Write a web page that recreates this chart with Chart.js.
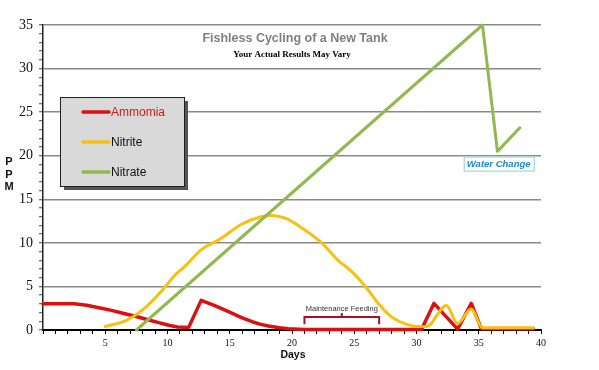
<!DOCTYPE html>
<html>
<head>
<meta charset="utf-8">
<script src="https://cdn.jsdelivr.net/npm/chart.js@4"></script>
<style>
  html, body { margin: 0; padding: 0; background: #fff; }
  #wrap { width: 599px; height: 370px; }
</style>
</head>
<body>
<div id="wrap"><canvas id="cycleChart" width="599" height="370"></canvas></div>
<script>
// values (days, ppm)
const ammoniaDays = [0, 2.5, 3.5, 4.5, 5.5, 6.5, 7.5, 8.5, 9.3, 10.1, 10.8, 11.7, 12.7, 13.8, 14.9, 15.9, 16.8, 17.5, 18.1, 19, 19.7, 21, 30.4, 31.4, 33.3, 34.4, 35.2, 39.4];
const ammoniaPpm  = [3, 3, 2.85, 2.55, 2.25, 1.9, 1.55, 1.15, 0.85, 0.55, 0.35, 0.3, 3.4, 2.8, 2.1, 1.45, 0.95, 0.65, 0.45, 0.25, 0.15, 0.05, 0.05, 3.05, 0.1, 3.05, 0.15, 0.15];

const nitriteDays = [5, 6.7, 8, 9.6, 10.6, 11.4, 12.7, 14.3, 15.9, 17.5, 18.4, 19.5, 20.5, 22.3, 23.7, 24.8, 25.9, 26.9, 28, 29.1, 30.1, 30.8, 32.4, 33.3, 34.4, 35.3, 39.4];
const nitritePpm  = [0.4, 1.1, 2.3, 4.6, 6.3, 7.3, 9.2, 10.5, 12.1, 13.0, 13.15, 12.8, 12.0, 10.1, 8.0, 6.7, 5.0, 3.1, 1.5, 0.7, 0.4, 0.4, 2.8, 0.75, 2.4, 0.25, 0.25];

const nitrateDays = [7.5, 35.3, 36.5, 38.3];
const nitratePpm  = [0, 35, 20.5, 23.2];

const seriesNames = ['Ammomia', 'Nitrite', 'Nitrate'];
const seriesColors = ['#dc1010', '#f8c010', '#92b850'];

const xTicks = [5, 10, 15, 20, 25, 30, 35, 40];
const yTicks = [0, 5, 10, 15, 20, 25, 30, 35];

const chartTitle = 'Fishless Cycling of a New Tank';
const chartSubtitle = 'Your Actual Results May Vary';

function toPoints(days, ppm) {
    return days.map((d, i) => ({ x: d, y: ppm[i] }));
}

const overlay = {
    id: 'overlay',
    afterDraw(chart) {
        const c = chart.ctx;
        const xs = chart.scales.x;
        const ys = chart.scales.y;
        c.save();
        c.textAlign = 'center';
        c.textBaseline = 'middle';

        // title + subtitle
        c.fillStyle = '#7f7f7f';
        c.font = 'bold 12.5px "Liberation Sans", Arial, sans-serif';
        c.fillText(chartTitle, 295, 39);
        c.fillStyle = '#000';
        c.font = 'bold 9px "Liberation Serif", "Times New Roman", serif';
        c.fillText(chartSubtitle, 292, 55);

        // axis titles
        c.font = 'bold 11px "Liberation Sans", Arial, sans-serif';
        c.fillStyle = '#111';
        ['P', 'P', 'M'].forEach((ch, i) => c.fillText(ch, 9, 162 + i * 12.5));
        c.font = 'bold 10.5px "Liberation Sans", Arial, sans-serif';
        c.fillText('Days', 293, 355);

        // legend box
        c.fillStyle = '#555';
        c.fillRect(64, 101, 124, 89);
        c.fillStyle = '#d9d9d9';
        c.fillRect(60, 97, 124, 89);
        c.strokeStyle = '#222';
        c.lineWidth = 1;
        c.strokeRect(60.5, 97.5, 124, 89);
        c.textAlign = 'left';
        c.font = '12px "Liberation Sans", Arial, sans-serif';
        chart.data.datasets.forEach((ds, i) => {
            const y = 112 + i * 30;
            c.strokeStyle = ds.borderColor;
            c.lineWidth = 3.5;
            c.lineCap = 'round';
            c.beginPath();
            c.moveTo(83, y);
            c.lineTo(109, y);
            c.stroke();
            c.fillStyle = i === 0 ? '#d81818' : '#111';
            c.fillText(ds.label, 111, y + 1);
        });

        // maintenance feeding bracket
        const bx1 = xs.getPixelForValue(21), bx2 = xs.getPixelForValue(27), bxm = xs.getPixelForValue(24);
        const top = ys.getPixelForValue(1.5), leg = ys.getPixelForValue(0.65), tip = ys.getPixelForValue(1.95);
        c.strokeStyle = '#a8121e';
        c.lineWidth = 2;
        c.lineCap = 'butt';
        c.beginPath();
        c.moveTo(bx1, leg); c.lineTo(bx1, top); c.lineTo(bx2, top); c.lineTo(bx2, leg);
        c.moveTo(bxm, top); c.lineTo(bxm, tip);
        c.stroke();
        c.textAlign = 'center';
        c.fillStyle = '#333';
        c.font = '7.5px "Liberation Sans", Arial, sans-serif';
        c.fillText('Maintenance Feeding', bxm, ys.getPixelForValue(2.45));

        // water change label
        const wx = xs.getPixelForValue(36.6), wy = ys.getPixelForValue(19.1);
        c.fillStyle = '#fff';
        c.fillRect(wx - 35, wy - 7, 70, 14);
        c.strokeStyle = '#8fcbe0';
        c.lineWidth = 1;
        c.strokeRect(wx - 35 + 0.5, wy - 7 + 0.5, 70, 14);
        c.fillStyle = '#1b88c4';
        c.font = 'italic bold 9.5px "Liberation Sans", Arial, sans-serif';
        c.fillText('Water Change', wx, wy + 1);
        c.restore();
    }
};

const ctx = document.getElementById('cycleChart').getContext('2d');
new Chart(ctx, {
    type: 'line',
    data: {
        datasets: [
            { label: seriesNames[0], data: toPoints(ammoniaDays, ammoniaPpm), borderColor: seriesColors[0], borderWidth: 3.5, tension: 0, order: 2 },
            { label: seriesNames[1], data: toPoints(nitriteDays, nitritePpm), borderColor: seriesColors[1], borderWidth: 3, cubicInterpolationMode: 'monotone', order: 1 },
            { label: seriesNames[2], data: toPoints(nitrateDays, nitratePpm), borderColor: seriesColors[2], borderWidth: 3, tension: 0, order: 0 }
        ]
    },
    options: {
        responsive: false,
        animation: false,
        layout: { padding: { top: 25, right: 58, left: 0, bottom: 0 } },
        elements: { point: { radius: 0 }, line: { borderCapStyle: 'round', borderJoinStyle: 'round' } },
        datasets: { line: { clip: 5 } },
        scales: {
            x: {
                type: 'linear',
                min: 0,
                max: 40,
                afterFit: scale => { scale.height = 40; },
                border: { color: '#000', width: 2 },
                grid: { drawOnChartArea: false, tickLength: 4, tickColor: '#000', tickWidth: 1 },
                ticks: {
                    stepSize: 1,
                    autoSkip: false,
                    maxRotation: 0,
                    padding: 3,
                    color: '#111',
                    font: { size: 10, family: '"Liberation Serif", "Times New Roman", serif' },
                    callback: v => xTicks.includes(v) ? String(v) : ''
                }
            },
            y: {
                min: 0,
                max: 35,
                afterFit: scale => { scale.width = 43; },
                border: { color: '#222', width: 1.5 },
                grid: {
                    color: c => yTicks.includes(c.tick.value) ? '#8a8a8a' : 'rgba(0,0,0,0)',
                    lineWidth: 1.5,
                    tickLength: 4,
                    tickColor: '#444',
                    tickWidth: 1
                },
                ticks: {
                    stepSize: 1,
                    autoSkip: false,
                    padding: 6,
                    color: '#111',
                    font: { size: 14, family: '"Liberation Serif", "Times New Roman", serif' },
                    callback: v => yTicks.includes(v) ? String(v) : ''
                }
            }
        },
        plugins: {
            legend: { display: false },
            tooltip: { enabled: false }
        }
    },
    plugins: [overlay]
});
</script>
</body>
</html>
